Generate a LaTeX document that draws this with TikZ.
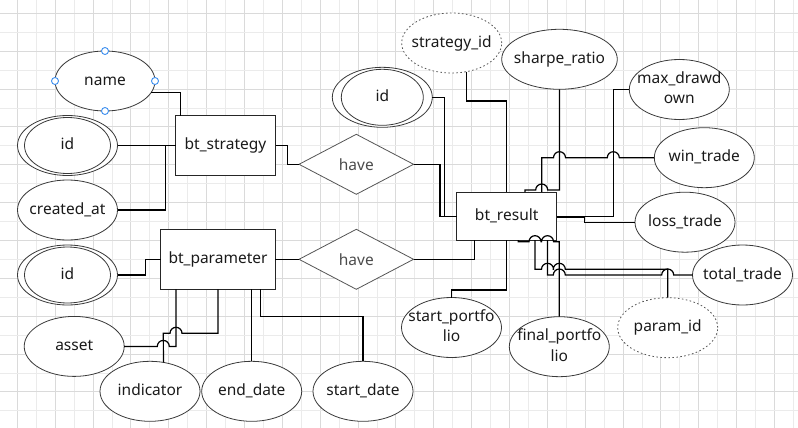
\documentclass[tikz,border=0pt]{standalone}
\usepackage{fontspec}
\setmainfont{Noto Sans}
\usetikzlibrary{shapes.geometric,calc}
\definecolor{gridA}{HTML}{EBEBEB}
\definecolor{gridB}{HTML}{DADADA}
\definecolor{txt}{HTML}{1A1A1A}
\definecolor{ellcol}{HTML}{3A3A3A}
\definecolor{relcol}{HTML}{555555}
\definecolor{handlecol}{HTML}{3D8FEF}
\newcommand{\ct}[1]{\makebox[0pt]{\begin{tabular}{@{}c@{}}#1\end{tabular}}}
\begin{document}
\begin{tikzpicture}[x=1pt,y=-1pt,
  every node/.style={font=\fontsize{15.5}{20.7}\selectfont, text=txt},
  attr/.style={ellipse, draw=ellcol, fill=white, line width=0.8pt, minimum width=100pt, minimum height=60pt, inner sep=0pt, outer sep=0pt},
  keyattr/.style={attr, dash pattern=on 1.6pt off 2.4pt, draw=relcol},
  ent/.style={rectangle, draw=black!85, fill=white, line width=0.9pt, minimum width=100pt, minimum height=60pt, inner sep=0pt, outer sep=0pt},
  rel/.style={diamond, draw=relcol, fill=white, line width=0.8pt, minimum width=114.5pt, minimum height=60pt, inner sep=0pt, outer sep=0pt, text=black!70},
  inner/.style={draw=ellcol, line width=0.8pt},
  conn/.style={draw=black, line width=1.2pt},
  hdl/.style={draw=handlecol, fill=white, line width=0.9pt}]
\useasboundingbox (0,0) rectangle (798,428);
\fill[white] (0,0) rectangle (798,428);
% grid
\foreach \k in {-1,...,41}{
  \pgfmathsetmacro\xx{17.3+18.93*\k}
  \pgfmathtruncatemacro\ev{mod(\k+2,2)}
  \ifnum\ev=0 \draw[gridB,line width=0.9pt] (\xx,0)--(\xx,428); \else \draw[gridA,line width=0.9pt] (\xx,0)--(\xx,428); \fi
}
\foreach \k in {-1,...,22}{
  \pgfmathsetmacro\yy{13.3+18.93*\k}
  \pgfmathtruncatemacro\ev{mod(\k+2,2)}
  \ifnum\ev=0 \draw[gridB,line width=0.9pt] (0,\yy)--(798,\yy); \else \draw[gridA,line width=0.9pt] (0,\yy)--(798,\yy); \fi
}
% entities and relations
\node[ent] (strat) at (225.5,145.5) {bt\_strategy};
\node[ent, minimum width=114.6pt] (param) at (218,259.3) {bt\_parameter};
\node[ent, minimum height=48pt] (res) at (506.7,216.2) {bt\_result};
\node[rel] (have1) at (356.3,164.3) {have};
\node[rel] (have2) at (356.3,259.3) {have};
% attributes
\node[attr] (name) at (105,81) {\ct{name}};
\node[attr] (id1) at (67.5,145.5) {\ct{id}};
\draw[inner] (id1.center) ellipse[x radius=43, y radius=28];
\node[attr] (created) at (67.5,210) {\ct{created\_at}};
\node[attr] (id2) at (67.5,275) {\ct{id}};
\draw[inner] (id2.center) ellipse[x radius=43, y radius=28];
\node[attr] (asset) at (74.2,346.4) {\ct{asset}};
\node[attr] (ind) at (150,391.3) {\ct{indicator}};
\node[attr] (ed) at (251.7,391.3) {\ct{end\_date}};
\node[attr] (sd) at (363,391.3) {\ct{start\_date}};
\node[attr] (id3) at (382.3,97.3) {\ct{id}};
\draw[inner] (id3.center) ellipse[x radius=41, y radius=28];
\node[keyattr] (sid) at (451.7,43) {\ct{strategy\_id}};
\node[attr, minimum width=115.6pt] (sharpe) at (559.5,59.3) {\ct{sharpe\_ratio}};
\node[attr] (maxdd) at (679.3,89.5) {\ct{max\_drawd\\own}};
\node[attr] (win) at (704.3,157.7) {\ct{win\_trade}};
\node[attr] (loss) at (685,222.2) {\ct{loss\_trade}};
\node[attr] (tt) at (742.5,275) {\ct{total\_trade}};
\node[keyattr] (pid) at (667.7,327.7) {\ct{param\_id}};
\node[attr] (fp) at (559.3,346.7) {\ct{final\_portfo\\lio}};
\node[attr] (sp) at (451.5,327.5) {\ct{start\_portfo\\lio}};
% selection handles on name
\foreach \a in {north,south,east,west} \draw[hdl] (name.\a) circle[radius=3.5];
% connectors: bt_strategy
\draw[conn] (name.-14.6) -| ($(strat.north west)+(5,0)$);
\draw[conn] (id1.east) -- (strat.west);
\draw[conn] (created.east) -| ($(strat.west)+(-10,0)$) -- (strat.west);
\draw[conn] (strat.east) -- ++(12,0) |- (have1.west);
\draw[conn] (have1.east) -| ($(res.west)+(-16.7,0)$) -- (res.west);
\draw[conn] (id3.east) -| ($(res.west)+(-12.4,0)$) -- (res.west);
% connectors: bt_parameter
\draw[conn] (param.east) -- (have2.west);
\draw[conn] (have2.east) -| ($(res.south west)+(17.6,0)$);
\draw[conn] (id2.east) -- (145.7,275) |- (param.west);
\draw[conn] (asset.east) -- (157.3,346.4) arc[start angle=180,end angle=360,radius=6] -- (176,346.4) -- (176,0 |- param.south);
\draw[conn] (ind.65.3) -- (163.3,333.3) -- (170,333.3) arc[start angle=180,end angle=360,radius=6] -- (218,333.3) -- (param.south);
\draw[conn] (ed.north) -- (ed.north |- param.south);
\draw[conn] (sd.north) -- (363,316.7) -- (260.7,316.7) -- (260.7,0 |- param.south);
% connectors: bt_result top/right
\draw[conn] (sid.-63.5) |- ($(res.north)+(0,-91.3)$) -- (res.north);
\draw[conn] (sharpe.south) -- (559.5,190) -- (547.7,190) arc[start angle=0,end angle=-180,radius=6] -- (525,190) -- (525,0 |- res.north);
\draw[conn] (win.west) -- (619.3,157.7) arc[start angle=0,end angle=-180,radius=6] -- (565.5,157.7) arc[start angle=0,end angle=-180,radius=6] -- (541.7,157.7) -- (541.7,0 |- res.north);
\draw[conn] (maxdd.west) -- (613.3,89.5) |- (res.east);
\draw[conn] (loss.west) -- (584.3,222.2) -- (584.3,217.5) -- (res.east |- 0,217.5);
% connectors: bt_result bottom
\draw[conn] (sp.north) -- ++(0,-7.5) -| (res.south);
\draw[conn] (fp.north) -- (559.3,241.7) -- (553.5,241.7) arc[start angle=0,end angle=-180,radius=6] -- (541,241.7) arc[start angle=0,end angle=-180,radius=6] -- (518.3,241.7) -- (518.3,0 |- res.south);
\draw[conn] (pid.north) -- (667.7,269.3) -- (565.3,269.3) arc[start angle=0,end angle=-180,radius=6] -- (553.5,269.3) arc[start angle=0,end angle=-180,radius=6] -- (535,269.3) -- (535,0 |- res.south);
\draw[conn] (tt.west) -- (673.7,275) arc[start angle=0,end angle=-180,radius=6] -- (565.3,275) arc[start angle=0,end angle=-180,radius=6] -- (547.5,275) -- (547.5,0 |- res.south);
\end{tikzpicture}
\end{document}
